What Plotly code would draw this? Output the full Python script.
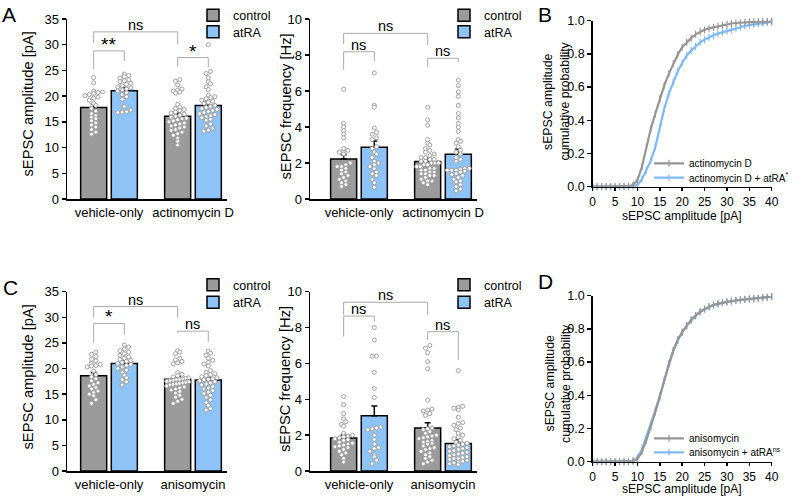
import plotly.graph_objects as go

# ---------------- data ----------------
groups_A = ["vehicle-only", "actinomycin D"]
groups_C = ["vehicle-only", "anisomycin"]
conditions = ["control", "atRA"]

# bar means and SEM (one value per group)
A_amp_mean_control = [17.8, 16.1]
A_amp_sem_control = [0.7, 0.6]
A_amp_mean_atRA = [21.05, 18.2]
A_amp_sem_atRA = [0.65, 0.65]

A_freq_mean_control = [2.22, 2.09]
A_freq_sem_control = [0.24, 0.17]
A_freq_mean_atRA = [2.87, 2.48]
A_freq_sem_atRA = [0.35, 0.30]

C_amp_mean_control = [18.6, 17.9]
C_amp_sem_control = [0.65, 0.5]
C_amp_mean_atRA = [21.0, 17.75]
C_amp_sem_atRA = [0.5, 0.5]

C_freq_mean_control = [1.84, 2.40]
C_freq_sem_control = [0.17, 0.29]
C_freq_mean_atRA = [3.08, 1.54]
C_freq_sem_atRA = [0.54, 0.19]

# individual cells
A_amp_control_vehicle = [23.6, 22.6, 21.0, 20.8, 20.7, 20.5, 20.3, 20.1, 19.8, 19.6, 19.2, 18.6, 18.2,
                         17.6, 17.1, 16.6, 16.2, 15.9, 15.6, 15.2, 14.8, 14.4, 14.0, 13.5, 13.0, 12.6]
A_amp_atRA_vehicle = [24.3, 24.0, 23.8, 23.5, 23.2, 23.0, 22.8, 22.5, 22.3, 22.0, 21.8, 21.6, 21.4,
                      21.2, 21.0, 20.7, 20.3, 19.9, 19.4, 18.0, 17.3, 17.0, 16.9, 16.8]
A_amp_control_actD = [23.2, 22.9, 22.2, 21.4, 21.2, 21.0, 20.8, 20.6, 18.4, 17.9, 17.6, 17.4, 17.2,
                      16.9, 16.7, 16.5, 16.3, 16.1, 15.9, 15.7, 15.6, 15.4, 15.2, 15.0, 14.8, 14.6,
                      14.4, 14.2, 14.0, 13.8, 13.5, 13.3, 13.0, 12.7, 12.4, 11.8, 11.2, 10.5]
A_amp_atRA_actD = [30.0, 24.8, 24.4, 23.6, 22.8, 22.4, 21.8, 21.3, 20.2, 19.9, 19.7, 19.5, 19.2, 19.0,
                   18.8, 18.6, 18.2, 18.0, 17.8, 17.6, 17.4, 17.2, 17.0, 16.8, 16.6, 16.4, 16.2, 16.0,
                   15.8, 15.5, 15.3, 14.6, 14.2, 13.8, 13.4, 13.2]

A_freq_control_vehicle = [6.1, 4.2, 4.0, 3.8, 3.6, 3.4, 2.8, 2.7, 2.6, 2.6, 2.5, 2.0, 1.9, 1.8, 1.8,
                          1.7, 1.6, 1.5, 1.4, 1.3, 1.2, 1.1, 1.0, 0.9, 0.8, 0.7]
A_freq_atRA_vehicle = [7.0, 5.2, 5.1, 3.95, 3.7, 3.6, 3.4, 3.3, 2.9, 2.8, 2.6, 2.5, 2.3, 2.1, 2.0,
                       1.9, 1.8, 1.7, 1.5, 1.4, 1.3, 1.1, 0.9, 0.65]
A_freq_control_actD = [5.1, 4.4, 4.1, 3.3, 3.1, 3.0, 2.8, 2.7, 2.6, 2.5, 2.4, 2.3, 2.3, 2.2, 2.2, 2.1,
                       2.1, 2.0, 2.0, 2.0, 1.9, 1.9, 1.8, 1.8, 1.7, 1.7, 1.6, 1.6, 1.5, 1.5, 1.4, 1.4,
                       1.3, 1.3, 1.2, 1.1, 1.0, 1.0, 0.9, 0.8]
A_freq_atRA_actD = [6.6, 6.3, 5.95, 5.7, 5.2, 4.75, 4.5, 4.2, 4.0, 3.75, 3.3, 3.2, 3.1, 2.9, 2.7, 2.6,
                    2.5, 2.3, 2.2, 2.1, 1.7, 1.7, 1.65, 1.6, 1.6, 1.6, 1.55, 1.5, 1.4, 1.35, 1.3, 1.2,
                    1.1, 1.0, 0.95, 0.8, 0.7, 0.55, 0.45]

C_amp_control_vehicle = [23.2, 22.8, 22.3, 21.8, 21.5, 21.0, 20.8, 20.6, 20.5, 20.3, 19.5, 18.8, 18.4,
                         18.0, 17.6, 17.2, 16.9, 16.6, 16.3, 16.0, 15.6, 15.3, 15.0, 14.7, 13.9, 13.2]
C_amp_atRA_vehicle = [24.6, 24.2, 23.8, 23.5, 23.2, 22.9, 22.6, 22.3, 22.0, 21.8, 21.6, 21.4, 21.2,
                      21.0, 20.8, 20.6, 20.3, 20.0, 19.7, 19.3, 18.7, 18.2, 17.8, 17.4, 16.8]
C_amp_control_aniso = [23.5, 23.2, 22.9, 22.0, 21.7, 21.4, 21.1, 20.9, 19.2, 18.9, 18.6, 18.4, 18.2,
                       18.1, 18.0, 17.9, 17.8, 17.7, 17.6, 17.5, 17.4, 17.3, 17.2, 17.1, 17.0, 16.9,
                       16.8, 16.6, 16.4, 16.2, 16.0, 15.8, 15.5, 15.2, 14.8, 14.4, 14.0, 13.6, 13.2]
C_amp_atRA_aniso = [23.4, 23.0, 22.6, 22.0, 21.6, 21.2, 20.9, 20.5, 19.6, 19.3, 19.0, 18.8, 18.6, 18.4,
                    18.2, 18.0, 17.9, 17.8, 17.6, 17.4, 17.2, 17.0, 16.8, 16.5, 16.2, 16.0, 15.7, 15.4,
                    15.1, 14.8, 14.4, 13.9, 13.3, 12.8, 12.2, 11.9]

C_freq_control_vehicle = [4.15, 3.7, 3.2, 2.9, 2.75, 2.6, 2.5, 2.1, 2.0, 1.95, 1.9, 1.85, 1.8, 1.75,
                          1.7, 1.6, 1.55, 1.5, 1.45, 1.4, 1.35, 1.3, 1.2, 1.1, 1.0, 0.9, 0.7, 0.5]
C_freq_atRA_vehicle = [8.0, 7.3, 6.4, 6.4, 5.5, 4.6, 4.1, 2.45, 2.4, 2.35, 2.3, 2.0, 1.75, 1.5, 1.3,
                       1.25, 1.1, 0.9, 0.8, 0.6, 0.4]
C_freq_control_aniso = [7.0, 6.85, 6.6, 6.1, 5.7, 3.95, 3.45, 3.4, 3.35, 3.2, 3.1, 2.4, 2.35, 2.3, 2.2,
                        2.1, 2.0, 1.95, 1.9, 1.85, 1.8, 1.7, 1.65, 1.6, 1.55, 1.5, 1.4, 1.3, 1.25, 1.2,
                        1.1, 1.0, 0.9, 0.8, 0.7, 0.6, 0.5, 0.4]
C_freq_atRA_aniso = [5.6, 3.6, 3.55, 3.5, 3.4, 3.0, 2.7, 2.65, 2.55, 2.4, 2.3, 2.1, 2.0, 1.9, 1.8, 1.7,
                     1.6, 1.55, 1.5, 1.45, 1.4, 1.35, 1.3, 1.25, 1.2, 1.15, 1.1, 1.05, 1.0, 0.95, 0.9,
                     0.85, 0.8, 0.75, 0.7, 0.7, 0.65, 0.6, 0.55, 0.5, 0.45, 0.4, 0.35]

# significance brackets: (group_left, cond_left, group_right, cond_right, top, left_end, right_end, label)
A_amp_brackets = [(0, 0, 1, 0, 32.5, 30.3, 30.1, "ns"),
                  (0, 0, 0, 1, 28.8, 25.2, 26.8, "**"),
                  (1, 0, 1, 1, 27.5, 25.7, 25.6, "*")]
A_freq_brackets = [(0, 0, 1, 0, 9.2, 8.6, 8.55, "ns"),
                   (0, 0, 0, 1, 8.18, 7.17, 7.63, "ns"),
                   (1, 0, 1, 1, 7.82, 7.32, 7.57, "ns")]
C_amp_brackets = [(0, 0, 1, 0, 32.1, 29.9, 29.9, "ns"),
                  (0, 0, 0, 1, 28.8, 25.0, 26.6, "*"),
                  (1, 0, 1, 1, 27.3, 26.9, 25.2, "ns")]
C_freq_brackets = [(0, 0, 1, 0, 9.41, 8.7, 8.7, "ns"),
                   (0, 0, 0, 1, 8.64, 7.49, 8.33, "ns"),
                   (1, 0, 1, 1, 7.77, 7.31, 6.19, "ns")]

# cumulative probability curves, sEPSC amplitude 0..40 pA in 1 pA steps
cdf_amplitude = list(range(0, 41))
B_actD = [0, 0, 0, 0, 0, 0, 0, 0, 0.003, 0.01, 0.04, 0.12, 0.24, 0.35, 0.44, 0.53, 0.61, 0.68, 0.74,
          0.795, 0.84, 0.87, 0.895, 0.918, 0.933, 0.945, 0.954, 0.96, 0.967, 0.973, 0.978, 0.983,
          0.986, 0.988, 0.99, 0.992, 0.993, 0.995, 0.996, 0.997, 0.998]
B_actD_atRA = [0, 0, 0, 0, 0, 0, 0, 0, 0, 0.002, 0.01, 0.045, 0.10, 0.16, 0.24, 0.36, 0.47, 0.56, 0.63,
               0.695, 0.745, 0.79, 0.82, 0.845, 0.87, 0.885, 0.90, 0.912, 0.922, 0.93, 0.938, 0.945,
               0.955, 0.962, 0.968, 0.973, 0.977, 0.982, 0.986, 0.989, 0.992]
D_aniso = [0, 0, 0, 0, 0, 0, 0, 0, 0, 0.003, 0.015, 0.06, 0.13, 0.21, 0.30, 0.39, 0.49, 0.59, 0.67,
           0.735, 0.78, 0.82, 0.855, 0.88, 0.905, 0.92, 0.935, 0.945, 0.952, 0.958, 0.963, 0.968,
           0.972, 0.975, 0.978, 0.98, 0.982, 0.985, 0.988, 0.99, 0.995]
D_aniso_atRA = [0, 0, 0, 0, 0, 0, 0, 0, 0, 0.005, 0.025, 0.075, 0.15, 0.225, 0.31, 0.40, 0.49, 0.585,
                0.665, 0.73, 0.78, 0.82, 0.852, 0.878, 0.90, 0.918, 0.932, 0.943, 0.951, 0.957, 0.962,
                0.967, 0.971, 0.974, 0.977, 0.98, 0.982, 0.985, 0.988, 0.99, 0.993]

# ---------------- style ----------------
W, H = 797, 497
FONT = "Liberation Sans, Arial, Helvetica, sans-serif"
GRAY = "#9b9b9b"
BLUE = "#8ec3f7"
DOT = "#a0a0a0"
BRACKET = "#aaaaaa"
CURVE_GRAY = "#969696"
CURVE_BLUE = "#80b9f5"
BAR_W = 0.31
BAR_GAP = 0.055

fig = go.Figure()


def xdom(p0, p1):
    return [p0 / W, p1 / W]


def ydom(top, bottom):
    return [1 - bottom / H, 1 - top / H]


def swarm(vals, ybin, step, maxhalf):
    order = sorted(range(len(vals)), key=lambda i: vals[i])
    bins = {}
    for i in order:
        bins.setdefault(round(vals[i] / ybin), []).append(i)
    off = [0.0] * len(vals)
    for idxs in bins.values():
        n = len(idxs)
        s = step if n < 2 else min(step, 2 * maxhalf / (n - 1))
        for j, i in enumerate(idxs):
            off[i] = (j - (n - 1) / 2) * s
    return off


def cond_offset(k):
    return -(BAR_W + BAR_GAP / 2) if k == 0 else BAR_GAP / 2


def cond_center(k):
    return cond_offset(k) + BAR_W / 2


def bar_panel(idx, cats, means, sems, dots, ybin, brackets, legends):
    xa = "x" if idx == 1 else f"x{idx}"
    ya = "y" if idx == 1 else f"y{idx}"
    xs = list(range(len(cats)))
    for k, cond in enumerate(conditions):
        fig.add_trace(go.Bar(
            x=xs, y=means[k], width=BAR_W, offset=cond_offset(k), name=cond,
            marker=dict(color=GRAY if k == 0 else BLUE, line=dict(color="black", width=1.5)),
            error_y=dict(type="data", symmetric=False, array=sems[k], arrayminus=[0] * len(xs),
                         color="black", thickness=1.5, width=3),
            legend=legends[k], xaxis=xa, yaxis=ya))
    for k in range(len(conditions)):
        for g in xs:
            vals = dots[k][g]
            offs = swarm(vals, ybin, 0.052, 0.13)
            fig.add_trace(go.Scatter(
                x=[g + cond_center(k) + o for o in offs], y=vals, mode="markers",
                marker=dict(symbol="circle", size=4, color="white", line=dict(color=DOT, width=1)),
                showlegend=False, hoverinfo="skip", xaxis=xa, yaxis=ya, cliponaxis=False))
    for (g1, c1, g2, c2, top, l_end, r_end, label) in brackets:
        x1 = g1 + cond_center(c1)
        x2 = g2 + cond_center(c2)
        fig.add_trace(go.Scatter(
            x=[x1, x1, x2, x2], y=[l_end, top, top, r_end], mode="lines",
            line=dict(color=BRACKET, width=1), showlegend=False, hoverinfo="skip",
            xaxis=xa, yaxis=ya, cliponaxis=False))
        star = label.startswith("*")
        fig.add_annotation(
            x=(x1 + x2) / 2, y=top, xref=xa, yref=ya, text=label, showarrow=False,
            yanchor="bottom", yshift=-6 if star else -3,
            font=dict(family=FONT, size=19 if star else 14.5, color="black"))


def cdf_panel(idx, curves, colors, names, legends):
    xa = f"x{idx}"
    ya = f"y{idx}"
    for ys, c, nm, lg in zip(curves, colors, names, legends):
        fig.add_trace(go.Scatter(
            x=cdf_amplitude, y=ys, mode="lines+markers", name=nm, legend=lg,
            line=dict(color=c, width=2.2),
            marker=dict(symbol="line-ns-open", size=5, color=c, line=dict(color=c, width=1.2)),
            xaxis=xa, yaxis=ya, cliponaxis=False))


bar_panel(1, groups_A, [A_amp_mean_control, A_amp_mean_atRA], [A_amp_sem_control, A_amp_sem_atRA],
          [[A_amp_control_vehicle, A_amp_control_actD], [A_amp_atRA_vehicle, A_amp_atRA_actD]],
          0.85, A_amp_brackets, ["legend", "legend2"])
bar_panel(2, groups_A, [A_freq_mean_control, A_freq_mean_atRA], [A_freq_sem_control, A_freq_sem_atRA],
          [[A_freq_control_vehicle, A_freq_control_actD], [A_freq_atRA_vehicle, A_freq_atRA_actD]],
          0.24, A_freq_brackets, ["legend3", "legend4"])
cdf_panel(3, [B_actD_atRA, B_actD], [CURVE_BLUE, CURVE_GRAY],
          ["actinomycin D + atRA<sup>*</sup>", "actinomycin D"], ["legend10", "legend9"])
bar_panel(4, groups_C, [C_amp_mean_control, C_amp_mean_atRA], [C_amp_sem_control, C_amp_sem_atRA],
          [[C_amp_control_vehicle, C_amp_control_aniso], [C_amp_atRA_vehicle, C_amp_atRA_aniso]],
          0.85, C_amp_brackets, ["legend5", "legend6"])
bar_panel(5, groups_C, [C_freq_mean_control, C_freq_mean_atRA], [C_freq_sem_control, C_freq_sem_atRA],
          [[C_freq_control_vehicle, C_freq_control_aniso], [C_freq_atRA_vehicle, C_freq_atRA_aniso]],
          0.24, C_freq_brackets, ["legend7", "legend8"])
cdf_panel(6, [D_aniso_atRA, D_aniso], [CURVE_BLUE, CURVE_GRAY],
          ["anisomycin + atRA<sup>ns</sup>", "anisomycin"], ["legend12", "legend11"])

# ---------------- axes ----------------
axis_common = dict(showgrid=False, zeroline=False, showline=True, linecolor="black", linewidth=1.5,
                   ticks="outside", ticklen=4, tickwidth=1.5, tickcolor="black", automargin=False,
                   tickfont=dict(family=FONT, size=13, color="black"), fixedrange=True)


def bar_xaxis(dom, rng, cats, anchor):
    return dict(axis_common, domain=dom, range=rng, tickvals=list(range(len(cats))), ticktext=cats,
                ticklen=1, tickcolor="rgba(0,0,0,0)", anchor=anchor)


def yaxis_def(dom, rng, dtick, anchor, fmt=None, tsize=13):
    d = dict(axis_common, domain=dom, range=rng, dtick=dtick, anchor=anchor)
    d["tickfont"] = dict(family=FONT, size=tsize, color="black")
    if fmt:
        d["tickformat"] = fmt
    return d


def cdf_xaxis(dom, anchor):
    return dict(axis_common, domain=dom, range=[0, 40], dtick=5, anchor=anchor, ticklen=3,
                tickfont=dict(family=FONT, size=12, color="black"))


AMP_X = [-0.5, 1.405]
FREQ_X = [-0.583, 1.405]
TOP_Y = (19, 199)
BOT_Y = (291.7, 471)

fig.update_layout(
    xaxis=bar_xaxis(xdom(67, 227), AMP_X, groups_A, "y"),
    yaxis=yaxis_def(ydom(*TOP_Y), [0, 35], 5, "x"),
    xaxis2=bar_xaxis(xdom(310, 477), FREQ_X, groups_A, "y2"),
    yaxis2=yaxis_def(ydom(*TOP_Y), [0, 10], 2, "x2"),
    xaxis3=cdf_xaxis(xdom(592.7, 771.7), "y3"),
    yaxis3=yaxis_def(ydom(20.7, 186.7), [0, 1], 0.2, "x3", fmt=".1f", tsize=12.5),
    xaxis4=bar_xaxis(xdom(67, 227), AMP_X, groups_C, "y4"),
    yaxis4=yaxis_def(ydom(*BOT_Y), [0, 35], 5, "x4"),
    xaxis5=bar_xaxis(xdom(310, 477), FREQ_X, groups_C, "y5"),
    yaxis5=yaxis_def(ydom(*BOT_Y), [0, 10], 2, "x5"),
    xaxis6=cdf_xaxis(xdom(592.7, 771.7), "y6"),
    yaxis6=yaxis_def(ydom(295.7, 461.7), [0, 1], 0.2, "x6", fmt=".1f", tsize=12.5),
)

# axis titles (text placed beside the axes)
axis_titles = [("sEPSC amplitude [pA]", 27.5, 104, 14.7, -90),
               ("sEPSC frequency [Hz]", 285, 106.5, 14.7, -90),
               ("sEPSC amplitude", 548.5, 101.5, 12.3, -90),
               ("cumulative probability", 565, 101.5, 12.3, -90),
               ("sEPSC amplitude [pA]", 682, 215.5, 12.1, 0),
               ("sEPSC amplitude [pA]", 27.5, 377, 14.7, -90),
               ("sEPSC frequency [Hz]", 285, 379, 14.7, -90),
               ("sEPSC amplitude", 549, 383.5, 12.3, -90),
               ("cumulative probability", 565.5, 383.5, 12.3, -90),
               ("sEPSC amplitude [pA]", 682, 489, 12.1, 0)]
for text, px, py, size, ang in axis_titles:
    fig.add_annotation(x=px / W, y=1 - py / H, xref="paper", yref="paper", text=text, textangle=ang,
                       showarrow=False, xanchor="center", yanchor="middle", borderpad=0,
                       font=dict(family=FONT, size=size, color="black"))


# ---------------- legends (one entry each) ----------------
def legend_at(text_x, row_y, size):
    return dict(x=(text_x - 40) / W, y=1 - row_y / H, xanchor="left", yanchor="middle",
                bgcolor="rgba(0,0,0,0)", borderwidth=0, font=dict(family=FONT, size=size, color="black"),
                itemclick=False, itemdoubleclick=False)


fig.update_layout(
    legend=legend_at(233, 15.5, 12.5),
    legend2=legend_at(233, 32, 12.5),
    legend3=legend_at(484, 15.5, 12.5),
    legend4=legend_at(484, 32, 12.5),
    legend5=legend_at(233, 285, 12.5),
    legend6=legend_at(233, 302.7, 12.5),
    legend7=legend_at(484, 285, 12.5),
    legend8=legend_at(484, 302.7, 12.5),
    legend9=legend_at(689, 163.3, 10),
    legend10=legend_at(689, 177.7, 10),
    legend11=legend_at(689, 438.3, 10),
    legend12=legend_at(689, 452.3, 10),
)

# panel letters
for letter, px, py in [("A", 0, 1), ("B", 536, 1), ("C", 1, 273.5), ("D", 536, 268)]:
    fig.add_annotation(x=px / W, y=1 - py / H, xref="paper", yref="paper", text=letter, showarrow=False,
                       xanchor="left", yanchor="top", font=dict(family=FONT, size=21, color="black"))

fig.update_layout(
    template="none",
    width=W, height=H, margin=dict(l=0, r=0, t=0, b=0, pad=0), barmode="overlay",
    paper_bgcolor="white", plot_bgcolor="white", font=dict(family=FONT, color="black"),
    showlegend=True,
)

fig.write_html("out.html", config={"displayModeBar": False, "staticPlot": True},
               post_script="document.body.style.margin='0';")
